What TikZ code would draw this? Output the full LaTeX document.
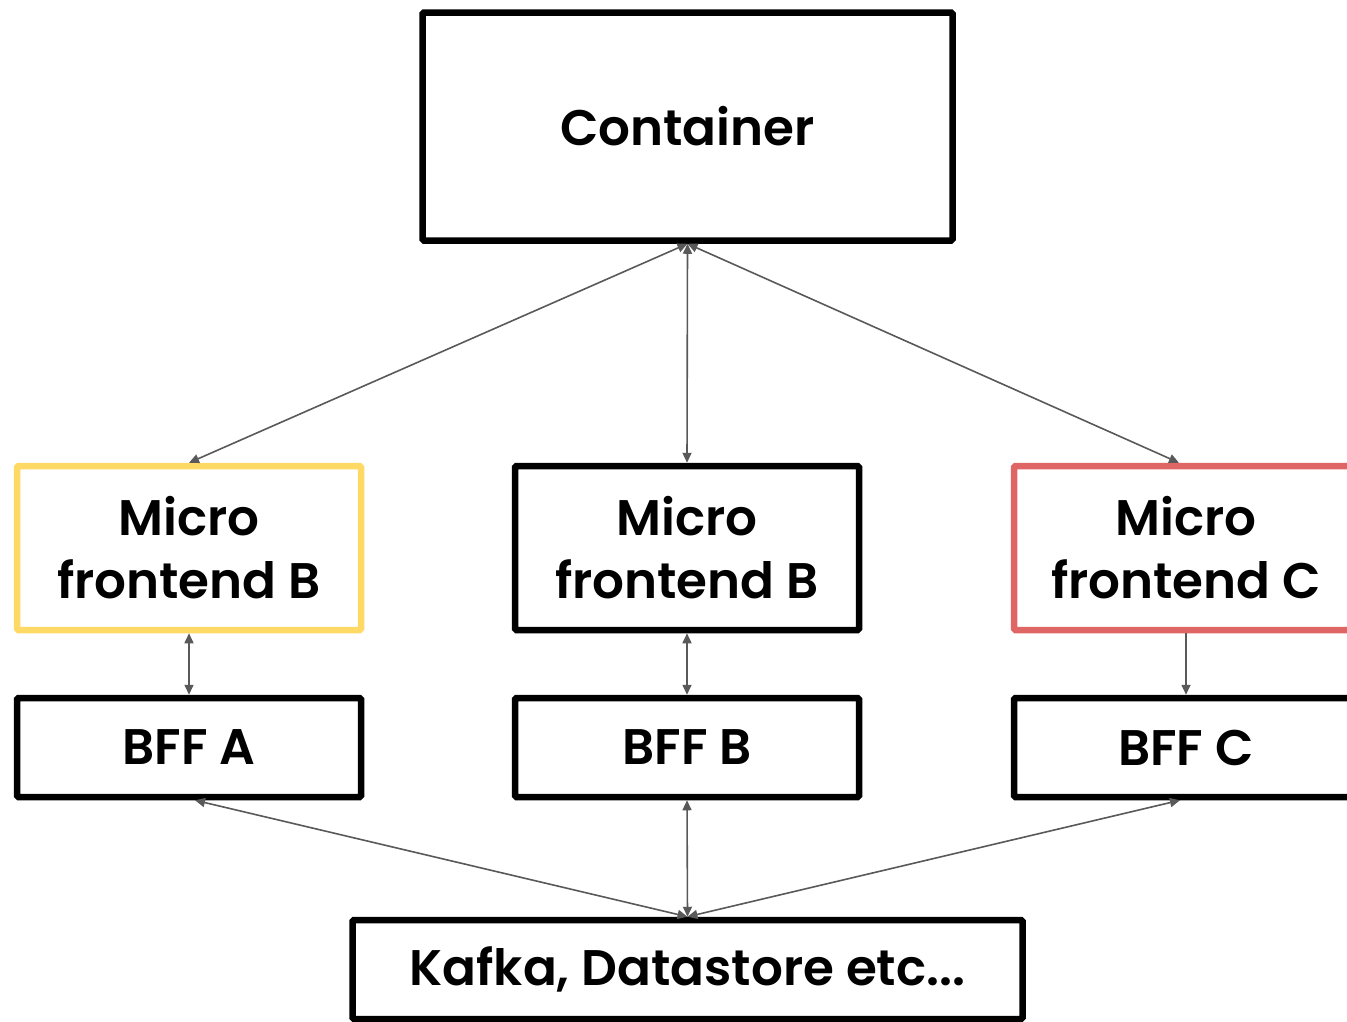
\documentclass[tikz,border=0pt]{standalone}
\usepackage{fontspec}
\setmainfont{Poppins}[BoldFont={Poppins SemiBold}]
\usetikzlibrary{arrows.meta,calc}
\definecolor{mfyellow}{HTML}{FFD966}
\definecolor{mfred}{HTML}{E06666}
\definecolor{conn}{HTML}{595959}
\begin{document}
\begin{tikzpicture}[x=1pt,y=-1pt,
  box/.style={draw=black,line width=6.5pt,rounded corners=1.5pt,align=center,
    font=\fontsize{50}{63}\selectfont\bfseries,inner sep=0pt},
  mfbox/.style={box,minimum width=344pt,minimum height=164pt},
  bffbox/.style={box,minimum width=344pt,minimum height=99pt},
  link/.style={draw=conn,line width=1.6pt,{Triangle[length=10pt,width=9pt]}-{Triangle[length=10pt,width=9pt]}},
  onelink/.style={draw=conn,line width=1.6pt,-{Triangle[length=10pt,width=9pt]}}]
\useasboundingbox (0,0) rectangle (1347,1021);
\clip (0,0) rectangle (1347,1021);
\node[box,minimum width=530pt,minimum height=228pt] (cont) at (687.5,126.5) {Container};
\node[mfbox,draw=mfyellow] (mfa) at (189,548) {Micro\\frontend B};
\node[mfbox] (mfb) at (687,548) {Micro\\frontend B};
\node[mfbox,draw=mfred] (mfc) at (1186,548) {Micro\\frontend C};
\node[bffbox] (bffa) at (189,747.5) {BFF A};
\node[bffbox] (bffb) at (687,747.5) {BFF B};
\node[bffbox] (bffc) at (1186,747.5) {BFF C};
\node[box,minimum width=670pt,minimum height=99pt] (kafka) at (687.5,969.5) {Kafka, Datastore etc...};
\draw[link] (cont.south) -- (mfa.north);
\draw[link] (cont.south) -- (mfb.north);
\draw[link] (cont.south) -- ($(mfc.north)+(-7,0)$);
\draw[link] (mfa.south) -- (bffa.north);
\draw[link] (mfb.south) -- (bffb.north);
\draw[onelink] (mfc.south) -- (bffc.north);
\draw[link] ($(bffa.south)+(6,0)$) -- (kafka.north);
\draw[link] (bffb.south) -- (kafka.north);
\draw[link] ($(bffc.south)+(-6,0)$) -- (kafka.north);
\end{tikzpicture}
\end{document}
